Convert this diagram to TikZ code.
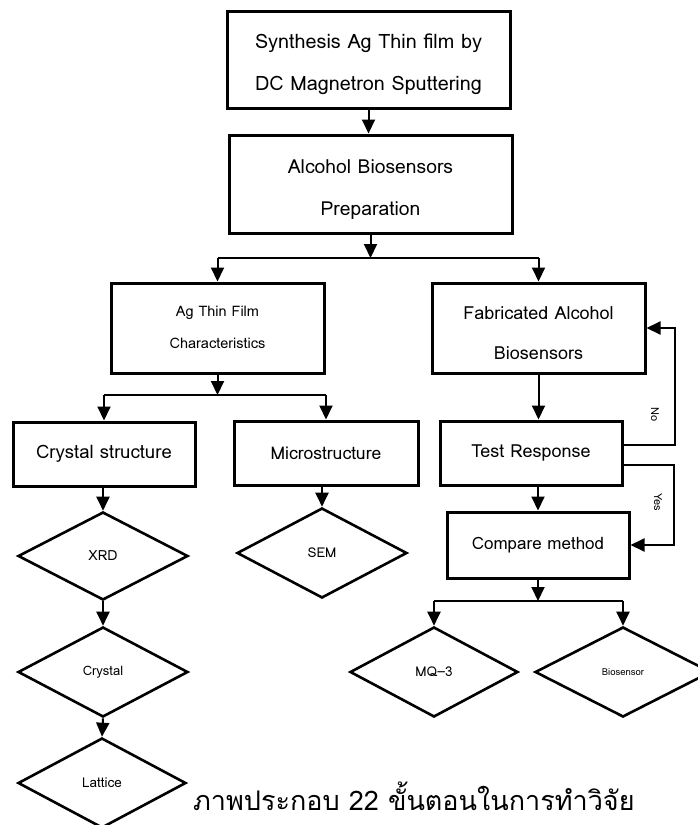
\documentclass[tikz,border=0pt]{standalone}
\usepackage{fontspec}
\usetikzlibrary{arrows.meta,shapes.geometric}
\newfontfamily\thaifont[Script=Thai]{Loma}
\newfontfamily\latfont{Loma}
\begin{document}
\begin{tikzpicture}[x=1pt,y=-1pt,
  box/.style={draw, line width=3pt, rectangle, inner sep=0pt},
  txt/.style={inner sep=0pt, align=center},
  dia/.style={draw, line width=2.6pt, diamond, inner sep=0pt, align=center},
  conn/.style={line width=2pt, -{Triangle[width=13pt,length=14pt]}},
  plain/.style={line width=2pt},
  lbl/.style={font=\latfont\fontsize{11}{12}\selectfont, rotate=-90, inner sep=0pt}
  ]
\useasboundingbox (0,0) rectangle (697,825);
% boxes
\node[box, minimum width=283pt, minimum height=97pt] (b1) at (368.5,59.5) {};
\node[txt, font=\latfont\fontsize{19.8}{42}\selectfont] (b1t) at (368.5,64.5) {Synthesis Ag Thin film by\\DC Magnetron Sputtering};
\node[box, minimum width=283pt, minimum height=98pt] (b2) at (370.5,184) {};
\node[txt, font=\latfont\fontsize{19.3}{42}\selectfont] (b2t) at (370.5,190) {Alcohol Biosensors\\Preparation};
\node[box, minimum width=213pt, minimum height=90pt] (ag) at (217.5,328) {};
\node[txt, font=\latfont\fontsize{14.5}{32}\selectfont] (agt) at (217.5,327) {Ag Thin Film\\Characteristics};
\node[box, minimum width=213pt, minimum height=90pt] (fab) at (538.5,328) {};
\node[txt, font=\latfont\fontsize{18}{40}\selectfont] (fabt) at (538.5,333) {Fabricated Alcohol\\Biosensors};
\node[box, minimum width=182pt, minimum height=64pt, font=\latfont\fontsize{18.5}{20}\selectfont] (cs) at (104,454) {Crystal structure};
\node[box, minimum width=184pt, minimum height=64pt, font=\latfont\fontsize{17.5}{20}\selectfont] (ms) at (326,453) {Microstructure};
\node[box, minimum width=182pt, minimum height=64pt, font=\latfont\fontsize{18}{20}\selectfont] (tr) at (531,453) {Test Response};
\node[box, minimum width=182pt, minimum height=66pt, font=\latfont\fontsize{17}{20}\selectfont] (cm) at (538,545) {Compare method};
% diamonds
\node[dia, minimum width=170pt, minimum height=88pt, font=\latfont\fontsize{14}{15}\selectfont] (xrd) at (103,556) {XRD};
\node[dia, minimum width=170pt, minimum height=90pt, font=\latfont\fontsize{13}{14}\selectfont] (cry) at (103,672) {Crystal};
\node[dia, minimum width=168pt, minimum height=90pt, font=\latfont\fontsize{13.5}{14}\selectfont] (lat) at (102,783) {Lattice};
\node[dia, minimum width=170pt, minimum height=90pt, font=\latfont\fontsize{13.5}{15}\selectfont] (sem) at (322,553) {SEM};
\node[dia, minimum width=168pt, minimum height=90pt, font=\latfont\fontsize{13.5}{15}\selectfont] (mq) at (434,672) {MQ–3};
\node[dia, minimum width=176pt, minimum height=90pt, font=\latfont\fontsize{9.5}{11}\selectfont] (bio) at (623,672) {Biosensor};
% caption
\node[font=\thaifont\fontsize{27}{32}\selectfont, anchor=base west, inner sep=0pt] (cap) at (193,810) {ภาพประกอบ 22 ขั้นตอนในการทำวิจัย};
% connectors
\draw[conn] (b1.south) -- (b1.south |- b2.north);
\coordinate (j1) at (370.5,258);
\draw[conn] (b2.south) -- (j1);
\draw[plain] (ag.north |- j1) -- (fab.north |- j1);
\draw[conn] (ag.north |- j1) -- (ag.north);
\draw[conn] (fab.north |- j1) -- (fab.north);
\coordinate (j2) at (217.5,395);
\draw[conn] (ag.south) -- (j2);
\draw[plain] (cs.north |- j2) -- (ms.north |- j2);
\draw[conn] (cs.north |- j2) -- (cs.north);
\draw[conn] (ms.north |- j2) -- (ms.north);
\draw[conn] (cs.south -| xrd.north) -- (xrd.north);
\draw[conn] (xrd.south) -- (cry.north);
\draw[conn] (cry.south) -- (lat.north);
\draw[conn] (ms.south -| sem.north) -- (sem.north);
\draw[conn] (fab.south) -- (fab.south |- tr.north);
\draw[conn] (cm.north |- tr.south) -- (cm.north);
\draw[conn] ([yshift=8pt]tr.east) -- ++(51,0) |- (fab.east);
\draw[conn] ([yshift=-12pt]tr.east) -- ++(50,0) |- (cm.east);
\node[lbl] (no) at (655,415) {No};
\node[lbl] (yes) at (658,502) {Yes};
\coordinate (j3) at (538,601);
\draw[conn] (cm.south) -- (j3);
\draw[plain] (mq.north |- j3) -- (bio.north |- j3);
\draw[conn] (mq.north |- j3) -- (mq.north);
\draw[conn] (bio.north |- j3) -- (bio.north);
\end{tikzpicture}
\end{document}
